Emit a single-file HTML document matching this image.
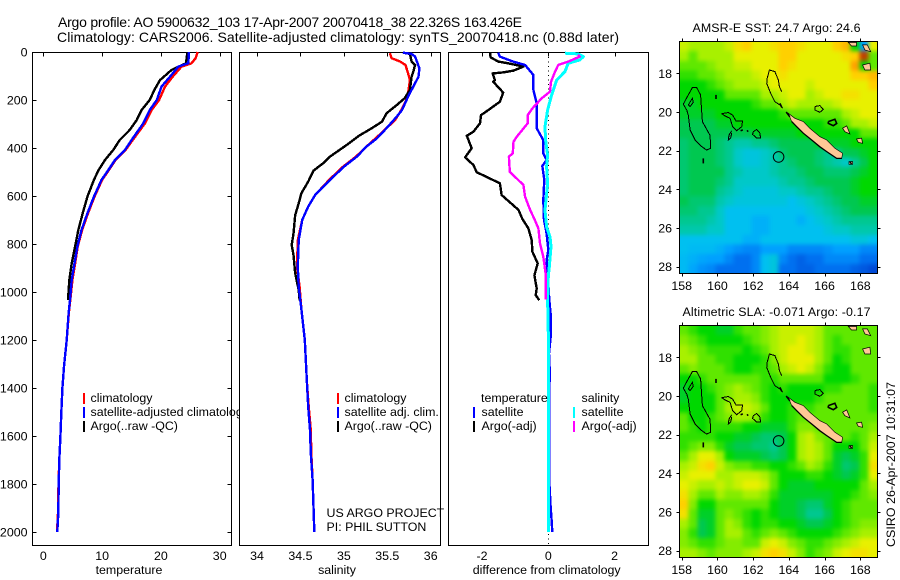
<!DOCTYPE html>
<html lang="en">
<head>
<meta charset="utf-8">
<title>Argo profile chart</title>
<style>
html,body{margin:0;padding:0;background:#fff;}
svg{display:block;font-family:"Liberation Sans",sans-serif;font-size:12.4px;fill:#000;}
</style>
</head>
<body>
<svg id="chart" xmlns="http://www.w3.org/2000/svg" width="900" height="580" viewBox="0 0 900 580">
  <defs>
    <clipPath id="clip-sst"><rect x="679.5" y="41.5" width="198" height="232"/></clipPath>
    <clipPath id="clip-sla"><rect x="679.5" y="325.5" width="198" height="232"/></clipPath>
    <filter id="cell-soften" filterUnits="userSpaceOnUse" x="640" y="0" width="260" height="580" color-interpolation-filters="sRGB">
      <feGaussianBlur stdDeviation="2.2"/>
    </filter>
  </defs>
  <rect x="0" y="0" width="900" height="580" fill="#fff"/>
  <text x="58" y="27" font-size="14" textLength="464" lengthAdjust="spacing">Argo profile: AO 5900632_103 17-Apr-2007 20070418_38 22.326S 163.426E</text>
  <text x="57" y="42" font-size="14" textLength="562" lengthAdjust="spacing">Climatology: CARS2006. Satellite-adjusted climatology: synTS_20070418.nc (0.88d later)</text>
  <g id="layer-temp"></g>
  <g id="layer-sal"></g>
  <g id="layer-diff"></g>
  <g id="layer-sst"></g>
  <g id="layer-sla"></g>
  <text x="692.5" y="32" textLength="168" lengthAdjust="spacing">AMSR-E SST: 24.7 Argo: 24.6</text>
  <text x="682.5" y="316" textLength="188" lengthAdjust="spacing">Altimetric SLA: -0.071 Argo: -0.17</text>
  <text transform="translate(895,547) rotate(-90)" textLength="165" lengthAdjust="spacing">CSIRO 26-Apr-2007 10:31:07</text>
</svg>
<script>
/* ---------- profile data ---------- */
const depthTicks = [0,200,400,600,800,1000,1200,1400,1600,1800,2000];
const tempTicks = [0,10,20,30];
const salTicks = [34,34.5,35,35.5,36];
const salTickLabels = ['34','34.5','35','35.5','36'];
const diffTicks = [-2,0,2];

const tempClimDepth = [0,26,47,61,103,144,200,242,297,367,408,450,492,533,603,672,742,811,881,950,1033,1089,1200,1311,1400,1505,1603,1700,1804,1922,2000];
const tempClimValue = [26.25,25.9,25.2,23.5,22,20.7,19.7,18.4,17.3,15.2,14.0,12.3,11.15,10.0,8.7,7.6,6.6,5.85,5.4,4.95,4.6,4.33,3.98,3.52,3.24,3.06,2.9,2.72,2.58,2.5,2.33];
const tempArgoDepth = [0,47,75,117,158,200,242,283,325,367,408,450,492,533,603,672,742,811,881,950,1033];
const tempArgoValue = [24.5,24.27,21.8,19.85,18.9,18.1,16.7,15.9,14.7,13,11.9,10.5,9.4,8.6,7.5,6.7,5.95,5.4,4.83,4.42,4.2];
const tempSatDepth = [0,47,61,103,144,200,242,297,367,408,450,492,533,603,672,742,811,881,950,1033,1089,1200,1311,1400,1505,1603,1700,1804,1922,2000];
const tempSatValue = [24.78,24.66,22.96,21.55,20.1,19.3,18.1,17,15,13.9,12.2,11.05,9.9,8.6,7.5,6.5,5.8,5.3,4.83,4.54,4.3,3.98,3.52,3.24,3.06,2.9,2.72,2.62,2.55,2.38];

const salClimDepth = [5,26,40,54,89,117,172,200,249,283,332,381,436,478,533,596,644,700,784,895,978,1068,1200,1374,1478,1575,1672,1783,1894,2000];
const salClimValue = [35.53,35.55,35.65,35.71,35.74,35.76,35.74,35.72,35.65,35.59,35.45,35.30,35.14,34.99,34.83,34.67,34.59,34.52,34.47,34.46,34.49,34.51,34.55,34.575,34.595,34.62,34.625,34.64,34.65,34.66];
const salArgoDepth = [3,8,40,54,82,103,158,193,221,256,290,318,350,388,436,464,494,540,589,631,679,756,804,846,922,992,1034];
const salArgoValue = [35.685,35.76,35.78,35.82,35.80,35.78,35.76,35.70,35.61,35.49,35.44,35.32,35.17,35.03,34.84,34.76,34.65,34.59,34.51,34.48,34.44,34.42,34.40,34.42,34.44,34.48,34.49];
const salSatDepth = [3,8,19,68,103,144,186,242,269,318,360,394,436,478,533,596,644,700,784,895,978,1068,1200,1374,1478,1575,1672,1783,1894,2000];
const salSatValue = [35.68,35.78,35.82,35.87,35.86,35.80,35.74,35.67,35.61,35.49,35.38,35.26,35.15,35.0,34.84,34.67,34.59,34.52,34.48,34.47,34.48,34.51,34.55,34.575,34.59,34.61,34.62,34.64,34.65,34.66];

const diffTempSatDepth = [3,19,40,54,96,158,214,318,367,422,450,475,533,617,700,756,825,867,964,1034,1089,1173,1256,1353,1388,1790,1894,1950,2000];
const diffTempSatValue = [-1.51,-1.46,-1.06,-0.70,-0.45,-0.45,-0.35,-0.35,-0.15,-0.15,-0.05,-0.18,-0.12,-0.15,-0.13,-0.05,0,-0.05,0,0.03,0.07,0.08,0.02,0.05,0.03,0.03,0.07,0.1,0.12];
const diffTempArgoDepth = [3,22,40,47,61,78,85,89,117,124,169,207,242,263,297,332,349,401,439,471,501,547,596,658,696,735,784,832,881,930,985,1013,1034];
const diffTempArgoValue = [-1.76,-1.74,-1.51,-1.21,-0.75,-1.06,-1.36,-1.68,-1.61,-1.66,-1.36,-1.46,-1.81,-2.03,-2.06,-2.26,-2.46,-2.31,-2.51,-2.26,-2.16,-1.46,-1.41,-0.90,-0.78,-0.60,-0.50,-0.48,-0.32,-0.42,-0.35,-0.38,-0.27];
const diffSalSatDepth = [5,8,19,33,47,82,117,179,242,311,367,429,478,547,659,728,770,811,895,936,1034,1173,1353,2000];
const diffSalSatValue = [0.5,0.9,1.06,0.95,0.6,0.5,0.25,0.1,-0.02,-0.10,-0.08,-0.02,-0.05,-0.02,-0.1,-0.05,0.05,0.08,0.03,0,-0.02,0,0,0];
const diffSalArgoDepth = [12,19,40,54,89,124,165,193,235,263,297,353,374,422,436,499,554,603,658,696,735,798,853,922,1031];
const diffSalArgoValue = [0.9,0.95,0.6,0.3,0.18,0.08,0.05,-0.2,-0.48,-0.62,-0.62,-0.95,-1.05,-1.07,-1.19,-1.16,-0.75,-0.70,-0.55,-0.42,-0.3,-0.25,-0.15,-0.08,-0.08];

/* ---------- map data (colour index per half-degree cell, north to south) ---------- */
const sstRows = [
[9.5,9,9,9,9,9.5,10.5,11,10,10,10.5,11,11,10.5,10,10,10,11,11.5,7,2,10],
[9,8,9,9,9,9,10,10,10,10,10,11,11,10,10,10,10,10,10.5,11,13,8],
[8,8,8,8.5,9,9,9.5,9.5,10,10,10,11,10.5,10,10,10,10,10,10,12,7,8],
[7.5,7.5,8,8,8.5,9,9,9,9.5,10,10,10.5,10,10,10,10,10,10,10,11,11,11.5],
[7,7,7,7.5,8,8.5,9,9,9,9.5,10,10,10,10,9.5,10,10,10,10,10,10,11],
[7,7,7,7,7,8,8,8,8,9,9,9.5,10,10,9,9.5,10,10,10.5,10.5,10,10],
[6.5,6.5,7,7,7,7,7,7,7.5,8,8,9,9.5,9,9,9,9,9.5,10,10,10,10],
[6.5,6.5,6.5,6.5,7,7,7,7,7,7,7,7.5,8,8,8,8,8,8,9,9.5,10,10],
[6,6,6,6,6.5,6.5,7,7,7,7,7,7,7,7,7,7,7.5,7.5,8,9,9,9.5],
[6,6,6,6,6,6,6,6,6.5,6.5,6.5,6.5,6.5,7,7,7,7,7,7,7,8,8],
[5.5,6,6,6,5.5,5,4.5,4.5,5,5,5.5,6,6,6,6,6.5,6.5,6.5,6.5,7,7,7],
[5.5,6,6,6,5.5,5,4,3.5,3.5,4,4.5,5.5,6,6,6,5.5,5,5,6,6,6.5,7],
[5.5,6,6,6,5.5,5,4,3.5,3.5,4,4.5,5,5.5,6,6,5.5,5,4.5,4,5,6,7],
[5.5,6,6,6,6,5,4.5,4,4,4,4.5,5,5,5.5,6,6,5.5,5.5,5.5,6,6.5,7],
[5.5,6,6,6,5.5,5,4,4,4,4,4,4.5,5,5,5.5,6,6,6,6,6.5,7,7],
[5.5,6,6,6,5,4.5,4,3.5,3.5,3.5,3.5,4,4,4.5,5,5,5.5,6,6,6.5,7,7],
[6,5.5,5.5,5.5,4.5,4,3.5,3.5,3.5,3.5,3.5,3.5,3,3.5,4,4.5,5,5.5,6,6,6.5,6.5],
[5.5,5.5,5,5,4,3,3,3,3,3,3,3,3,3,3.5,4,4.5,5,5.5,6,6,6],
[5,5,5,4.5,4,3,3,3,2.5,2.5,3,3,3,2.5,3,3.5,4,4.5,5,5,5,5],
[4.5,4.5,4.5,4,4,3,3,3,2.5,2.5,3,3,3,3,3,3,3.5,4,4,4.5,4.5,4.5],
[3,3,3,3,3,3,3,2.5,2.5,3,3,3,3,3,3,3,3,3,3,3.5,3.5,3],
[3,2.8,2.8,2.8,2.5,2,1.7,1.5,1.5,2,2,2,1.5,1.5,1.5,1.5,1.7,2,2,2,1.5,1.5],
[2.8,2.5,2.2,2,2,1.5,1,1,1.5,3,3.5,1.5,1,0.7,1,1,1.5,1.5,1.5,1.5,1,1],
[2.8,2.2,1.7,1.5,1,1,1,1,1.5,3,3.5,1,1,0.7,0.7,1,1,1,1,0.7,0.5,0.2]
];
const slaRows = [
[8,7.5,7,7,6.5,6.5,7.5,8,8,8.5,9,9.5,9.5,9.5,9.5,9,8,8,8,8,8,8],
[8.5,8,7.5,7,7,7,7,7.5,8,8.5,9,9.5,9.5,10,9.5,9,8,7.5,8,8,8,8],
[9,8.5,8,7.5,7.5,7.5,7.5,7,7.5,8,9,9.5,10,10,9.5,9,8,7.5,7.5,8,8,8],
[9,9,8,8,7.5,7.5,7,7,7,7.5,8.5,9.5,10,10,10,9,8,7,7.5,8,8,8],
[8,8.5,8,8,8,7.5,7,7,7.5,7.5,8,9,9.5,10,9.5,8.5,7.5,7,7,8,8,8],
[7,7,7.5,8,8,8,8,8,8,7.5,7.5,8,8,8,8,8,7,7,7,7.5,8,8],
[6.5,7,7,7.5,8,8.5,9,8.5,8,7.5,7,7.5,7,7,7,7,7.5,7.5,8,8,8,7.5],
[6.5,7,7,7,8,8.5,9,9,8.5,7.5,7,7,7,7,7,7.5,8,8,8,8,8,7.5],
[7,7,7,7,8,9,9.5,9.5,9,8,7,7,7.5,7.5,7.5,8,8,8,8,8,8,7.5],
[8,7,7,7.5,8,8.5,9,9,8.5,7.5,7,7,7.5,8,8,8,8,8,8,8,8,8],
[8,7.5,7,7.5,7.5,7.5,7.5,7,7,6.5,6.5,6.5,7.5,8.5,8.5,8,8,8,8,8,8,8.5],
[7.5,7.5,7.5,7.5,7,7,6.5,6.5,6,5.5,5.5,6,7,9,9.5,8.5,8,8,8,7.5,8,9],
[7.5,8,8.5,8.5,7.5,6.5,6,6,5.5,5.5,5,6,7,9,9.5,9,8,7,7,7,8,9.5],
[8,9,10,10,9,7,6.5,6.5,6.5,6,5.5,6,7,9,9.5,9,8,6.5,6,6.5,7.5,10],
[9,9.5,10.5,11,9.5,8.5,8,8,7.5,7.5,7,7,7.5,8,9,8.5,7.5,6.5,5.5,6,7.5,10.5],
[9.5,10,10,10,9,9,9.5,9.5,9.5,9,8,7,7,7,7.5,7.5,7,6.5,6,6.5,7.5,10],
[10,9.5,9,9,9.5,9,9.5,10,10,9.5,8,7,6.5,6.5,6.5,7,7,7,7,7,8,9],
[10.5,9,8,8,9,8.5,8.5,9,9,8.5,7.5,6.5,6.5,6.5,6.5,6.5,6.5,7,7,7.5,8,8.5],
[11,8.5,7,7,8,8,8,8,8,8,7,6.5,6.5,6,5.5,5.5,6.5,7,7.5,8,8,8],
[10.5,8,6.5,6.5,8,8.5,8,7.5,7,7.5,7,6.5,6.5,6,5,5,6,7,7.5,8,8,8],
[9,8,6,6.5,8,9,8.5,7.5,7,7.5,7.5,7,7,6.5,6,6,6.5,7,7.5,8,8.5,8.5],
[8.5,7.5,6,6.5,8,9,9,8,7.5,8,8.5,8,7.5,7,7,7,7,7.5,8,8.5,9,9],
[8.5,8,7.5,7.5,8,8.5,8.5,8,8,9.5,10,9.5,8.5,8,7.5,7.5,8,8.5,9,9.5,10,10],
[9,9,8.5,8,8.5,8.5,8.5,9,9.5,10.5,11,10.5,9.5,8.5,7.5,8,8.5,9.5,10,10.5,10.5,10]
];
const colourStops = [[0,0,64,208],[1,0,112,240],[2,0,160,255],[3,0,192,240],[4,0,200,200],[5,0,200,144],[6,0,200,80],[7,0,216,0],[8,96,232,0],[9,168,240,0],[10,232,240,0],[11,255,208,0],[12,255,160,0],[13,192,64,0]];
const mapTicksLon = [158,160,162,164,166,168];
const mapTicksLat = [18,20,22,24,26,28];
const argoLon = 163.426;
const argoLat = 22.326;

const nCaledoniaLon = [163.97,164.34,164.81,165.18,165.74,166.12,166.58,167.01,166.96,166.68,166.12,165.74,165.28,164.81,164.44,164.16];
const nCaledoniaLat = [20.07,20.33,20.50,20.85,21.28,21.45,21.88,22.14,22.40,22.40,22.05,21.80,21.45,21.10,20.76,20.50];
const nCaledoniaSouthLon = [164.16,164.44,164.81,165.28,165.74,166.12,166.68,166.96];
const nCaledoniaSouthLat = [20.50,20.76,21.10,21.45,21.80,22.05,22.40,22.40];
const islandOutlines = [
 {lon:[167.01,167.24,167.33,167.42,167.14],lat:[20.84,20.72,20.93,21.14,21.02]},
 {lon:[167.79,168.07,168.13,167.89],lat:[21.40,21.36,21.62,21.57]},
 {lon:[167.37,167.57,167.57,167.37],lat:[22.57,22.57,22.71,22.71]},
 {lon:[167.33,167.79,167.79,167.51],lat:[16.40,16.40,16.59,16.59]},
 {lon:[168.13,168.39,168.58,168.26],lat:[16.53,16.53,16.88,16.79]},
 {lon:[168.13,168.54,168.58,168.26],lat:[17.57,17.48,17.83,17.83]}
];
const reefOutlines = [
 {lon:[158.09,158.37,158.60,158.84,159.06,159.12,159.16,159.59,159.62,159.40,159.12,158.75,158.47,158.37,158.28,158.09],lat:[19.60,19.12,18.74,18.74,19.12,19.98,20.50,21.22,21.88,21.97,21.79,21.45,20.93,20.16,19.90,19.60]},
 {lon:[158.37,158.60,158.65,158.47,158.37],lat:[19.64,19.29,19.50,19.72,19.64]},
 {lon:[160.24,160.61,160.85,161.04,161.41,161.36,161.08,160.85,160.71,160.43,160.24],lat:[20.09,20.03,20.16,20.47,20.47,20.76,20.97,20.76,20.33,20.21,20.09]},
 {lon:[160.80,160.65,160.61,160.74,160.80],lat:[20.98,21.19,21.45,21.36,21.10]},
 {lon:[162.01,162.20,162.38,162.42,162.20,161.97,162.01],lat:[21.02,20.90,21.10,21.36,21.36,21.16,21.02]},
 {lon:[163.60,163.47,163.41,163.22,162.91,162.79,162.76,162.98,163.22,163.50,163.65],lat:[18.95,18.69,18.34,17.91,17.83,18.26,18.52,19.03,19.47,19.64,19.81]},
 {lon:[165.46,165.74,165.93,165.74,165.46,165.46],lat:[19.72,19.67,19.86,20.02,19.90,19.72]}
];
const thickReefs = [
 {lon:[166.21,166.58,166.68,166.49,166.21,166.21],lat:[20.50,20.38,20.59,20.71,20.59,20.50]},
 {lon:[159.92,159.92],lat:[19.12,19.33]},
 {lon:[159.21,159.21],lat:[22.40,22.66]},
 {lon:[161.30,161.42],lat:[20.97,20.93]},
 {lon:[161.66,161.72],lat:[20.95,21.02]},
 {lon:[163.85,164.05],lat:[20.00,20.25]},
 {lon:[163.50,163.60],lat:[19.55,19.75]},
 {lon:[167.42,167.52],lat:[22.60,22.68]}
];

/* ---------- axis functions ---------- */
const panelTop = 52.5, panelBottom = 545.5;
function yDepth(p){ return 52 + 0.24 * p; }
function xTemp(v){ return 43.3 + 5.88 * v; }
function xSal(v){ return 257 + 86.85 * (v - 34); }
function xDiff(v){ return 548.3 + 33.15 * v; }
const mapLeft = 679.5, mapRight = 877.5, mapHeight = 232;
function xLon(lon){ return 681.7 + 17.86 * (lon - 158); }
function yLat(lat, top){ return top + 31.8 + 19.33 * (lat - 18); }

/* ---------- helpers ---------- */
const NS = 'http://www.w3.org/2000/svg';
function make(tag, parent, attrs){
  const node = document.createElementNS(NS, tag);
  for (const k in attrs) node.setAttribute(k, attrs[k]);
  parent.appendChild(node);
  return node;
}
function pointsFrom(xs, ys){
  return xs.map(function(x, i){ return x.toFixed(1) + ',' + ys[i].toFixed(1); }).join(' ');
}
function drawProfile(parent, name, depths, values, xFn, colour, width){
  const el = make('polyline', parent, {points: pointsFrom(values.map(xFn), depths.map(yDepth)), fill: 'none', stroke: colour, 'stroke-width': width, 'shape-rendering': 'crispEdges', 'stroke-linejoin': 'round'});
  
  
}
function drawPanelFrame(parent, name, x0, x1){
  const bg = make('rect', parent, {x: x0, y: panelTop, width: x1 - x0, height: panelBottom - panelTop, fill: '#fff', stroke: '#000', 'stroke-width': 1, 'shape-rendering': 'crispEdges'});
  
  
}
function drawXTicks(parent, prefix, ticks, labels, xFn){
  ticks.forEach(function(t, i){
    const x = Math.round(xFn(t)) + 0.5;
    const tick = make('line', parent, {x1: x, x2: x, y1: panelTop, y2: panelTop + 4, stroke: '#000', 'stroke-width': 1, 'shape-rendering': 'crispEdges'});
    
    
    const lab = make('text', parent, {x: xFn(t), y: 560, 'text-anchor': 'middle'});
    lab.textContent = labels[i];
    
    
  });
}
function addText(parent, name, str, x, y, anchor){
  const t = make('text', parent, {x: x, y: y, 'text-anchor': anchor || 'start'});
  t.textContent = str;
  
  
}
function addLegendBar(parent, name, x, y, colour){
  const b = make('rect', parent, {x: x, y: y, width: 2, height: 11, fill: colour, 'shape-rendering': 'crispEdges'});
  
  
}

/* ---------- temperature panel ---------- */
const gT = document.getElementById('layer-temp');
drawPanelFrame(gT, 'temperature-axes-frame', 32.5, 231.5);
drawProfile(gT, 'temperature-climatology-line', tempClimDepth, tempClimValue, xTemp, '#ff0000', 2.4);
drawProfile(gT, 'temperature-argo-line', tempArgoDepth, tempArgoValue, xTemp, '#000000', 2.4);
drawProfile(gT, 'temperature-satellite-line', tempSatDepth, tempSatValue, xTemp, '#0000ff', 2.4);
drawXTicks(gT, 'temperature', tempTicks, tempTicks.map(String), xTemp);
depthTicks.forEach(function(d){
  const y = Math.round(yDepth(d)) + 0.5;
  const left = make('line', gT, {x1: 32.5, x2: 36.5, y1: y, y2: y, stroke: '#000', 'shape-rendering': 'crispEdges'});
  
  
  const right = make('line', gT, {x1: 227.5, x2: 231.5, y1: y, y2: y, stroke: '#000', 'shape-rendering': 'crispEdges'});
  
  
  addText(gT, 'depth-tick-label', String(d), 27.5, yDepth(d) + 4.5, 'end');
});
addText(gT, 'temperature-axis-title', 'temperature', 129, 574, 'middle');
addLegendBar(gT, 'legend-bar-climatology', 83, 393, '#ff0000');
addText(gT, 'legend-climatology', 'climatology', 90.5, 402);
addLegendBar(gT, 'legend-bar-satellite', 83, 407, '#0000ff');
addText(gT, 'legend-satellite-adjusted', 'satellite-adjusted climatology', 90.5, 416);
addLegendBar(gT, 'legend-bar-argo', 83, 421, '#000000');
addText(gT, 'legend-argo', 'Argo(..raw -QC)', 90.5, 430);

/* ---------- salinity panel ---------- */
const gS = document.getElementById('layer-sal');
drawPanelFrame(gS, 'salinity-axes-frame', 239.5, 440.5);
drawProfile(gS, 'salinity-climatology-line', salClimDepth, salClimValue, xSal, '#ff0000', 2.4);
drawProfile(gS, 'salinity-argo-line', salArgoDepth, salArgoValue, xSal, '#000000', 2.4);
drawProfile(gS, 'salinity-satellite-line', salSatDepth, salSatValue, xSal, '#0000ff', 2.4);
drawXTicks(gS, 'salinity', salTicks, salTickLabels, xSal);
addText(gS, 'salinity-axis-title', 'salinity', 337, 574, 'middle');
addLegendBar(gS, 'salinity-legend-bar-climatology', 337, 393, '#ff0000');
addText(gS, 'salinity-legend-climatology', 'climatology', 344.5, 402);
addLegendBar(gS, 'salinity-legend-bar-satellite', 337, 407, '#0000ff');
addText(gS, 'salinity-legend-satellite', 'satellite adj. clim.', 344.5, 416);
addLegendBar(gS, 'salinity-legend-bar-argo', 337, 421, '#000000');
addText(gS, 'salinity-legend-argo', 'Argo(..raw -QC)', 344.5, 430);
addText(gS, 'project-label', 'US ARGO PROJECT', 326.5, 517);
addText(gS, 'pi-label', 'PI: PHIL SUTTON', 326.5, 531);

/* ---------- difference panel ---------- */
const gD = document.getElementById('layer-diff');
drawPanelFrame(gD, 'difference-axes-frame', 448.5, 648.5);
const zeroLine = make('line', gD, {x1: 548.5, x2: 548.5, y1: panelTop, y2: panelBottom, stroke: '#000', 'stroke-width': 1, 'stroke-dasharray': '1 3.5', 'shape-rendering': 'crispEdges'});


drawProfile(gD, 'difference-temperature-argo-line', diffTempArgoDepth, diffTempArgoValue, xDiff, '#000000', 2.4);
drawProfile(gD, 'difference-temperature-satellite-line', diffTempSatDepth, diffTempSatValue, xDiff, '#0000ff', 2.4);
drawProfile(gD, 'difference-salinity-satellite-line', diffSalSatDepth, diffSalSatValue, xDiff, '#00ffff', 3);
drawProfile(gD, 'difference-salinity-argo-line', diffSalArgoDepth, diffSalArgoValue, xDiff, '#ff00ff', 2.4);
drawXTicks(gD, 'difference', diffTicks, diffTicks.map(String), xDiff);
addText(gD, 'difference-axis-title', 'difference from climatology', 546.7, 574, 'middle');
addText(gD, 'difference-legend-temperature-heading', 'temperature', 481, 402);
addLegendBar(gD, 'difference-legend-bar-temp-satellite', 473, 407, '#0000ff');
addText(gD, 'difference-legend-temp-satellite', 'satellite', 481.5, 416);
addLegendBar(gD, 'difference-legend-bar-temp-argo', 473, 421, '#000000');
addText(gD, 'difference-legend-temp-argo', 'Argo(-adj)', 481.5, 430);
addText(gD, 'difference-legend-salinity-heading', 'salinity', 581.5, 402);
addLegendBar(gD, 'difference-legend-bar-sal-satellite', 573, 407, '#00ffff');
addText(gD, 'difference-legend-sal-satellite', 'satellite', 581.5, 416);
addLegendBar(gD, 'difference-legend-bar-sal-argo', 573, 421, '#ff00ff');
addText(gD, 'difference-legend-sal-argo', 'Argo(-adj)', 581.5, 430);

/* ---------- maps ---------- */
function colourFor(v){
  for (let i = 0; i < colourStops.length - 1; i++){
    const a = colourStops[i], b = colourStops[i + 1];
    if (v <= b[0]){
      const f = Math.max(0, (v - a[0]) / (b[0] - a[0]));
      return 'rgb(' + Math.round(a[1] + f * (b[1] - a[1])) + ',' + Math.round(a[2] + f * (b[2] - a[2])) + ',' + Math.round(a[3] + f * (b[3] - a[3])) + ')';
    }
  }
  const last = colourStops[colourStops.length - 1];
  return 'rgb(' + last[1] + ',' + last[2] + ',' + last[3] + ')';
}
function drawMap(groupId, prefix, rows, top, clipId, labelY){
  const g = document.getElementById(groupId);
  const body = make('g', g, {'clip-path': 'url(#' + clipId + ')'});
  
  
  const field = make('g', body, {filter: 'url(#cell-soften)'});
  
  
  const cw = (mapRight - mapLeft) / rows[0].length;
  const ch = mapHeight / rows.length;
  const bleed = 9;
  rows.forEach(function(row, j){
    row.forEach(function(v, i){
      const left = i === 0 ? bleed : 0;
      const right = i === row.length - 1 ? bleed : 0;
      const above = j === 0 ? bleed : 0;
      const below = j === rows.length - 1 ? bleed : 0;
      const cell = make('rect', field, {x: (mapLeft + i * cw - left).toFixed(2), y: (top + j * ch - above).toFixed(2), width: (cw + 0.4 + left + right).toFixed(2), height: (ch + 0.4 + above + below).toFixed(2), fill: colourFor(v), 'shape-rendering': 'crispEdges'});
      
      
    });
  });
  function pts(o){ return pointsFrom(o.lon.map(xLon), o.lat.map(function(l){ return yLat(l, top); })); }
  const mainIsland = make('polygon', body, {points: pts({lon: nCaledoniaLon, lat: nCaledoniaLat}), fill: '#ffc896', stroke: '#000', 'stroke-width': 0.6});
  
  
  const coast = make('polyline', body, {points: pts({lon: nCaledoniaSouthLon, lat: nCaledoniaSouthLat}), fill: 'none', stroke: '#000', 'stroke-width': 1.3});
  
  
  islandOutlines.forEach(function(o){
    const isl = make('polygon', body, {points: pts(o), fill: '#ffc896', stroke: '#000', 'stroke-width': 0.7});
    
    
  });
  reefOutlines.forEach(function(o){
    const reef = make('polyline', body, {points: pts(o), fill: 'none', stroke: '#000', 'stroke-width': 1, 'shape-rendering': 'crispEdges'});
    
    
  });
  thickReefs.forEach(function(o){
    const reef = make('polyline', body, {points: pts(o), fill: 'none', stroke: '#000', 'stroke-width': 1.6});
    
    
  });
  const marker = make('circle', body, {cx: xLon(argoLon), cy: yLat(argoLat, top), r: 5.3, fill: 'none', stroke: '#000', 'stroke-width': 1});
  
  
  const frame = make('rect', g, {x: mapLeft, y: top, width: mapRight - mapLeft, height: mapHeight, fill: 'none', stroke: '#000', 'stroke-width': 1, 'shape-rendering': 'crispEdges'});
  
  
  mapTicksLon.forEach(function(lon){
    const x = Math.round(xLon(lon)) + 0.5;
    const t1 = make('line', g, {x1: x, x2: x, y1: top - 3, y2: top, stroke: '#000', 'shape-rendering': 'crispEdges'});
    
    
    const t2 = make('line', g, {x1: x, x2: x, y1: top + mapHeight, y2: top + mapHeight + 3, stroke: '#000', 'shape-rendering': 'crispEdges'});
    
    
    addText(g, prefix + '-lon-tick-label', String(lon), xLon(lon), labelY, 'middle');
  });
  mapTicksLat.forEach(function(lat){
    const y = Math.round(yLat(lat, top)) + 0.5;
    const t1 = make('line', g, {x1: mapLeft - 3, x2: mapLeft, y1: y, y2: y, stroke: '#000', 'shape-rendering': 'crispEdges'});
    
    
    const t2 = make('line', g, {x1: mapRight, x2: mapRight + 3, y1: y, y2: y, stroke: '#000', 'shape-rendering': 'crispEdges'});
    
    
    addText(g, prefix + '-lat-tick-label', String(lat), 672, yLat(lat, top) + 4.5, 'end');
  });
}
drawMap('layer-sst', 'sst', sstRows, 41.5, 'clip-sst', 290);
drawMap('layer-sla', 'sla', slaRows, 325.5, 'clip-sla', 574);
</script>
</body>
</html>
